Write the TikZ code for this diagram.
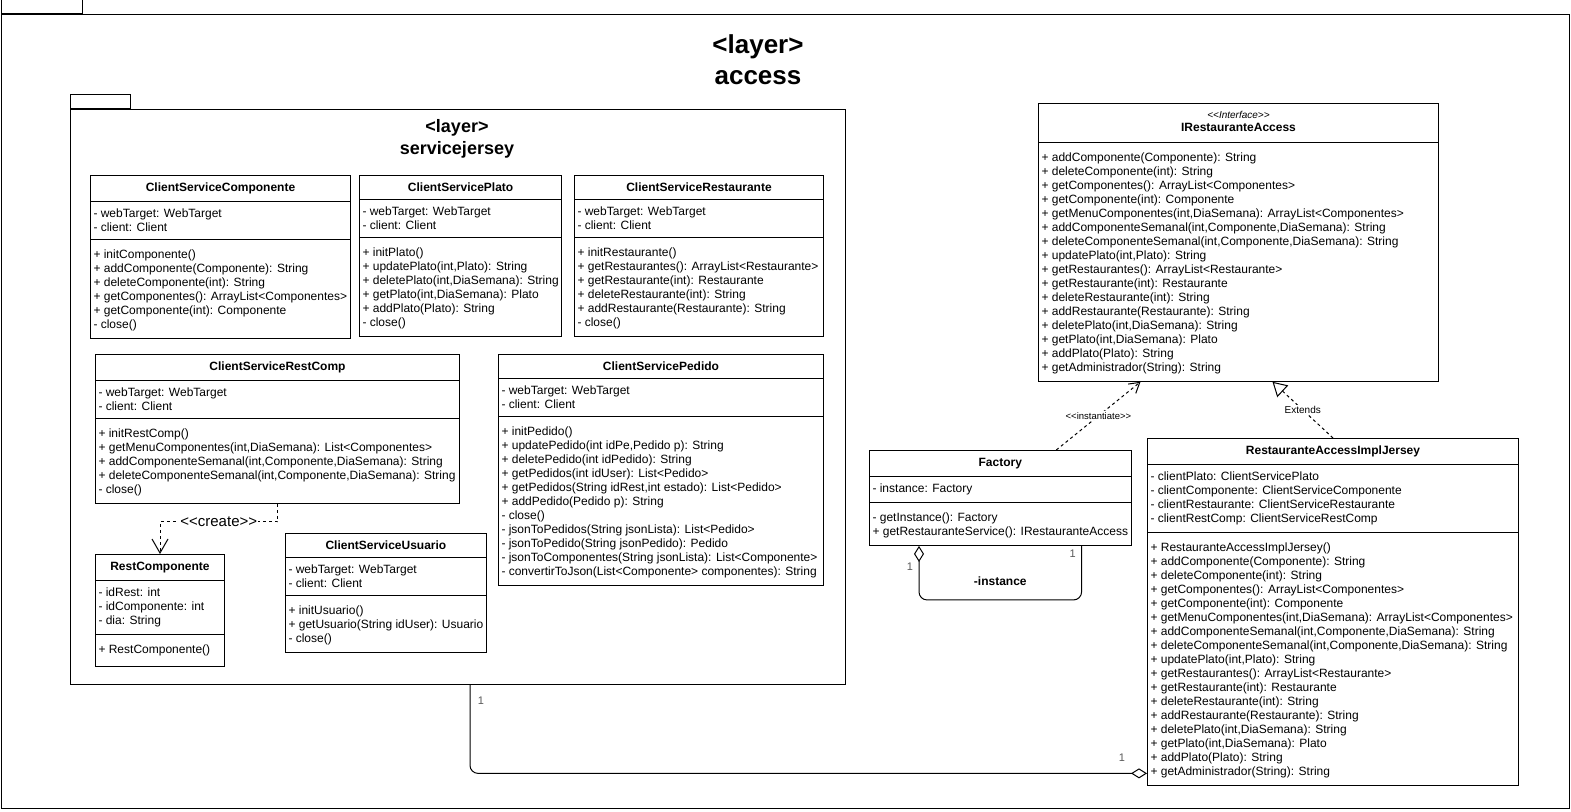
\documentclass[tikz,border=0pt]{standalone}
\usepackage{fontspec}
\setmainfont{Liberation Sans}
\usetikzlibrary{arrows.meta,positioning,shapes.multipart}
\definecolor{multgray}{HTML}{595959}
\newcommand{\guil}[1]{<{}<#1>{}>}
\newcommand{\opstop}{\rule{0pt}{11.5pt}}

\begin{document}
\begin{tikzpicture}[x=1pt,y=-1pt,line width=1pt,
  umlclass/.style={draw,fill=white,anchor=north west,rectangle split,rectangle split parts=3,
    rectangle split part align={center,left,left},align=left,inner xsep=3pt,inner ysep=7pt,
    font=\fontsize{12}{14}\selectfont},
  umliface/.style={umlclass,rectangle split parts=2,rectangle split part align={center,left}},
  pkg/.style={draw,fill=white,anchor=north west,inner sep=0pt},
  pkgtab/.style={draw,fill=white,anchor=south west,inner sep=0pt,minimum height=14},
  dep/.style={dash pattern=on 3pt off 3pt,-{Straight Barb[length=14pt,width=16pt]}},
  ext/.style={dash pattern=on 3pt off 3pt,-{Triangle[open,length=14pt,width=16pt]}},
  agg/.style={{Diamond[open,length=16pt,width=10pt]}-,rounded corners=8pt},
  lbl/.style={fill=white,inner sep=1pt,font=\fontsize{10}{12}\selectfont},
  mult/.style={text=multgray,inner sep=0pt,font=\fontsize{11}{13}\selectfont}]
\useasboundingbox (0,0) rectangle (1571,811);
% packages
\node[pkg,minimum width=1568,minimum height=794] (acc) at (0.5,14) {};
\node[pkgtab,minimum width=81] (acctab) at (acc.north west) {};
\node[align=center,font=\fontsize{26}{31}\selectfont\bfseries] (acctitle) at (758,60) {<layer>\\access};
\node[pkg,minimum width=775,minimum height=575] (sj) at (70,109) {};
\node[pkgtab,minimum width=60] (sjtab) at (sj.north west) {};
\node[align=center,font=\fontsize{18}{22}\selectfont\bfseries] (sjtitle) at (457,139) {<layer>\\servicejersey};
% servicejersey classes
\node[umlclass,minimum width=260] (csc) at (90,175) {\textbf{ClientServiceComponente}
  \nodepart{second}- webTarget: WebTarget\\- client: Client
  \nodepart{third}\opstop+ initComponente()\\+ addComponente(Componente): String\\+ deleteComponente(int): String\\+ getComponentes(): ArrayList<Componentes>\\+ getComponente(int): Componente\\- close()};
\node[umlclass,minimum width=200] (csp) at (359,175) {\textbf{ClientServicePlato}
  \nodepart{second}- webTarget: WebTarget\\- client: Client
  \nodepart{third}\opstop+ initPlato()\\+ updatePlato(int,Plato): String\\+ deletePlato(int,DiaSemana): String\\+ getPlato(int,DiaSemana): Plato\\+ addPlato(Plato): String\\- close()};
\node[umlclass,minimum width=249] (csr) at (574,175) {\textbf{ClientServiceRestaurante}
  \nodepart{second}- webTarget: WebTarget\\- client: Client
  \nodepart{third}\opstop+ initRestaurante()\\+ getRestaurantes(): ArrayList<Restaurante>\\+ getRestaurante(int): Restaurante\\+ deleteRestaurante(int): String\\+ addRestaurante(Restaurante): String\\- close()};
\node[umlclass,minimum width=364] (csrc) at (95,354) {\textbf{ClientServiceRestComp}
  \nodepart{second}- webTarget: WebTarget\\- client: Client
  \nodepart{third}\opstop+ initRestComp()\\+ getMenuComponentes(int,DiaSemana): List<Componentes>\\+ addComponenteSemanal(int,Componente,DiaSemana): String\\+ deleteComponenteSemanal(int,Componente,DiaSemana): String\\- close()};
\node[umlclass,minimum width=325] (cspe) at (498,354) {\textbf{ClientServicePedido}
  \nodepart{second}- webTarget: WebTarget\\- client: Client
  \nodepart{third}\opstop+ initPedido()\\+ updatePedido(int idPe,Pedido p): String\\+ deletePedido(int idPedido): String\\+ getPedidos(int idUser): List<Pedido>\\+ getPedidos(String idRest,int estado): List<Pedido>\\+ addPedido(Pedido p): String\\- close()\\- jsonToPedidos(String jsonLista): List<Pedido>\\- jsonToPedido(String jsonPedido): Pedido\\- jsonToComponentes(String jsonLista): List<Componente>\\- convertirToJson(List<Componente> componentes): String};
\node[umlclass,minimum width=129] (rc) at (95,554) {\textbf{RestComponente}
  \nodepart{second}- idRest: int\\- idComponente: int\\- dia: String
  \nodepart{third}\opstop+ RestComponente()\rule[-5pt]{0pt}{0pt}};
\node[umlclass,minimum width=199] (csu) at (285,533) {\textbf{ClientServiceUsuario}
  \nodepart{second}- webTarget: WebTarget\\- client: Client
  \nodepart{third}\opstop+ initUsuario()\\+ getUsuario(String idUser): Usuario\\- close()};
% access classes
\node[umliface,minimum width=400] (iface) at (1038,103) {{\renewcommand{\arraystretch}{0.8}\begin{tabular}{@{}c@{}}{\fontsize{10}{12}\selectfont\itshape\guil{Interface}}\\[1pt]\textbf{IRestauranteAccess}\end{tabular}}
  \nodepart{second}\opstop+ addComponente(Componente): String\\+ deleteComponente(int): String\\+ getComponentes(): ArrayList<Componentes>\\+ getComponente(int): Componente\\+ getMenuComponentes(int,DiaSemana): ArrayList<Componentes>\\+ addComponenteSemanal(int,Componente,DiaSemana): String\\+ deleteComponenteSemanal(int,Componente,DiaSemana): String\\+ updatePlato(int,Plato): String\\+ getRestaurantes(): ArrayList<Restaurante>\\+ getRestaurante(int): Restaurante\\+ deleteRestaurante(int): String\\+ addRestaurante(Restaurante): String\\+ deletePlato(int,DiaSemana): String\\+ getPlato(int,DiaSemana): Plato\\+ addPlato(Plato): String\\+ getAdministrador(String): String};
\node[umlclass,minimum width=259] (fac) at (869,450) {\textbf{Factory}
  \nodepart{second}- instance: Factory
  \nodepart{third}\opstop- getInstance(): Factory\\+ getRestauranteService(): IRestauranteAccess};
\node[umlclass,minimum width=371] (impl) at (1147,438) {\textbf{RestauranteAccessImplJersey}
  \nodepart{second}- clientPlato: ClientServicePlato\\- clientComponente: ClientServiceComponente\\- clientRestaurante: ClientServiceRestaurante\\- clientRestComp: ClientServiceRestComp
  \nodepart{third}\opstop+ RestauranteAccessImplJersey()\\+ addComponente(Componente): String\\+ deleteComponente(int): String\\+ getComponentes(): ArrayList<Componentes>\\+ getComponente(int): Componente\\+ getMenuComponentes(int,DiaSemana): ArrayList<Componentes>\\+ addComponenteSemanal(int,Componente,DiaSemana): String\\+ deleteComponenteSemanal(int,Componente,DiaSemana): String\\+ updatePlato(int,Plato): String\\+ getRestaurantes(): ArrayList<Restaurante>\\+ getRestaurante(int): Restaurante\\+ deleteRestaurante(int): String\\+ addRestaurante(Restaurante): String\\+ deletePlato(int,DiaSemana): String\\+ getPlato(int,DiaSemana): Plato\\+ addPlato(Plato): String\\+ getAdministrador(String): String};
% relations
\draw[dep] (csrc.south) -- ++(0,18) -| node[pos=0.25,fill=white,inner sep=1pt,font=\fontsize{15}{18}\selectfont]{\guil{create}} (rc.north);
\draw[dep,-{Straight Barb[length=10pt,width=12pt]}] ([xshift=56pt]fac.north) -- node[lbl,font=\fontsize{9.5}{11}\selectfont]{\guil{instantiate}} ([xshift=-98pt]iface.south);
\draw[ext] (impl.north) -- node[lbl]{Extends} ([xshift=34pt]iface.south);
\draw[agg] ([xshift=50pt]fac.south west) node[mult,xshift=-9pt,yshift=-21pt]{1} -- ++(0,54)
  -| node[pos=0.25,yshift=19pt,font=\fontsize{12}{14}\selectfont\bfseries]{-instance} ([xshift=-50pt]fac.south east) node[mult,xshift=-9pt,yshift=-8pt]{1};
\draw[agg] ([yshift=13pt]impl.south west) node[mult,xshift=-25pt,yshift=16pt]{1}
  -| ([xshift=400pt]sj.south west) node[mult,xshift=11pt,yshift=-16pt]{1};
\end{tikzpicture}
\end{document}
